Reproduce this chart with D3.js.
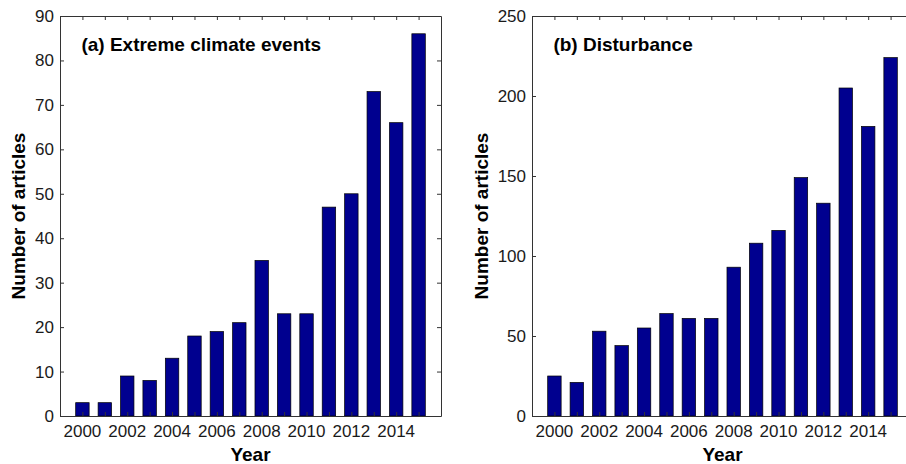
<!DOCTYPE html>
<html>
<head>
<meta charset="utf-8">
<script src="https://cdn.jsdelivr.net/npm/d3@7"></script>
<style>
  body { margin: 0; background: #fff; }
  svg { display: block; font-family: Arial, "Liberation Sans", sans-serif; }
</style>
</head>
<body>
<div id="chart"></div>
<script>
// data
const years = d3.range(2000, 2016);
const extremeEvents = [3, 3, 9, 8, 13, 18, 19, 21, 35, 23, 23, 47, 50, 73, 66, 86];
const disturbance = [25, 21, 53, 44, 55, 64, 61, 61, 93, 108, 116, 149, 133, 205, 181, 224];
const yearLabels = [2000, 2002, 2004, 2006, 2008, 2010, 2012, 2014];
const extremeTicks = d3.range(0, 91, 10);
const disturbanceTicks = [0, 50, 100, 150, 200, 250];

const w = 906, h = 464;
const plotTop = 16, plotBottom = 416, plotW = 381;

const svg = d3.select("#chart").append("svg")
  .attr("width", w).attr("height", h);

function panel(left, values, yMax, yTicks, title, labelX) {
  const x = d3.scaleLinear().domain([1999, 2016]).range([left, left + plotW]);
  const y = d3.scaleLinear().domain([0, yMax]).range([plotBottom, plotTop]);
  const bw = 0.6 * (x(1) - x(0));
  const g = svg.append("g");

  g.selectAll("rect.bar")
    .data(values)
    .enter()
    .append("rect")
    .attr("class", "bar")
    .attr("x", (d, i) => x(years[i]) - bw / 2)
    .attr("y", d => y(d))
    .attr("width", bw)
    .attr("height", d => plotBottom - y(d))
    .attr("fill", "#00008f")
    .attr("stroke", "#000")
    .attr("stroke-width", 0.7);

  // axes, MATLAB style: ticks pointing inward on all four sides
  const xb = g.append("g").attr("transform", "translate(0," + plotBottom + ")")
    .call(d3.axisBottom(x).tickValues(years).tickSizeInner(-4).tickSizeOuter(0).tickFormat(""));
  const xt = g.append("g").attr("transform", "translate(0," + plotTop + ")")
    .call(d3.axisTop(x).tickValues(years).tickSizeInner(-4).tickSizeOuter(0).tickFormat(""));
  const yl = g.append("g").attr("transform", "translate(" + left + ",0)")
    .call(d3.axisLeft(y).tickValues(yTicks).tickSizeInner(-4).tickSizeOuter(0).tickPadding(6));
  const yr = g.append("g").attr("transform", "translate(" + (left + plotW) + ",0)")
    .call(d3.axisRight(y).tickValues(yTicks).tickSizeInner(-4).tickSizeOuter(0).tickFormat(""));

  // year labels every two years
  g.selectAll("text.yr")
    .data(yearLabels)
    .enter()
    .append("text")
    .attr("class", "yr")
    .attr("x", d => x(d))
    .attr("y", 437)
    .attr("text-anchor", "middle")
    .attr("font-size", 17)
    .attr("fill", "#1a1a1a")
    .text(d => d);

  [xb, xt, yl, yr].forEach(a => {
    a.select(".domain").attr("stroke", "#333").attr("stroke-width", 1);
    a.selectAll(".tick line").attr("stroke", "#333");
  });
  yl.selectAll("text").attr("font-size", 17).attr("fill", "#1a1a1a")
    .attr("font-family", "Arial, 'Liberation Sans', sans-serif");

  g.append("text")
    .attr("x", x(2000) - 1)
    .attr("y", 51)
    .attr("font-size", 19)
    .attr("font-weight", "bold")
    .text(title);

  g.append("text")
    .attr("x", left + plotW / 2)
    .attr("y", 461)
    .attr("text-anchor", "middle")
    .attr("font-size", 19)
    .attr("font-weight", "bold")
    .text("Year");

  g.append("text")
    .attr("transform", "translate(" + labelX + "," + ((plotTop + plotBottom) / 2) + ") rotate(-90)")
    .attr("text-anchor", "middle")
    .attr("font-size", 19)
    .attr("font-weight", "bold")
    .text("Number of articles");
}

panel(60, extremeEvents, 90, extremeTicks, "(a) Extreme climate events", 25);
panel(532, disturbance, 250, disturbanceTicks, "(b) Disturbance", 488);
</script>
</body>
</html>
